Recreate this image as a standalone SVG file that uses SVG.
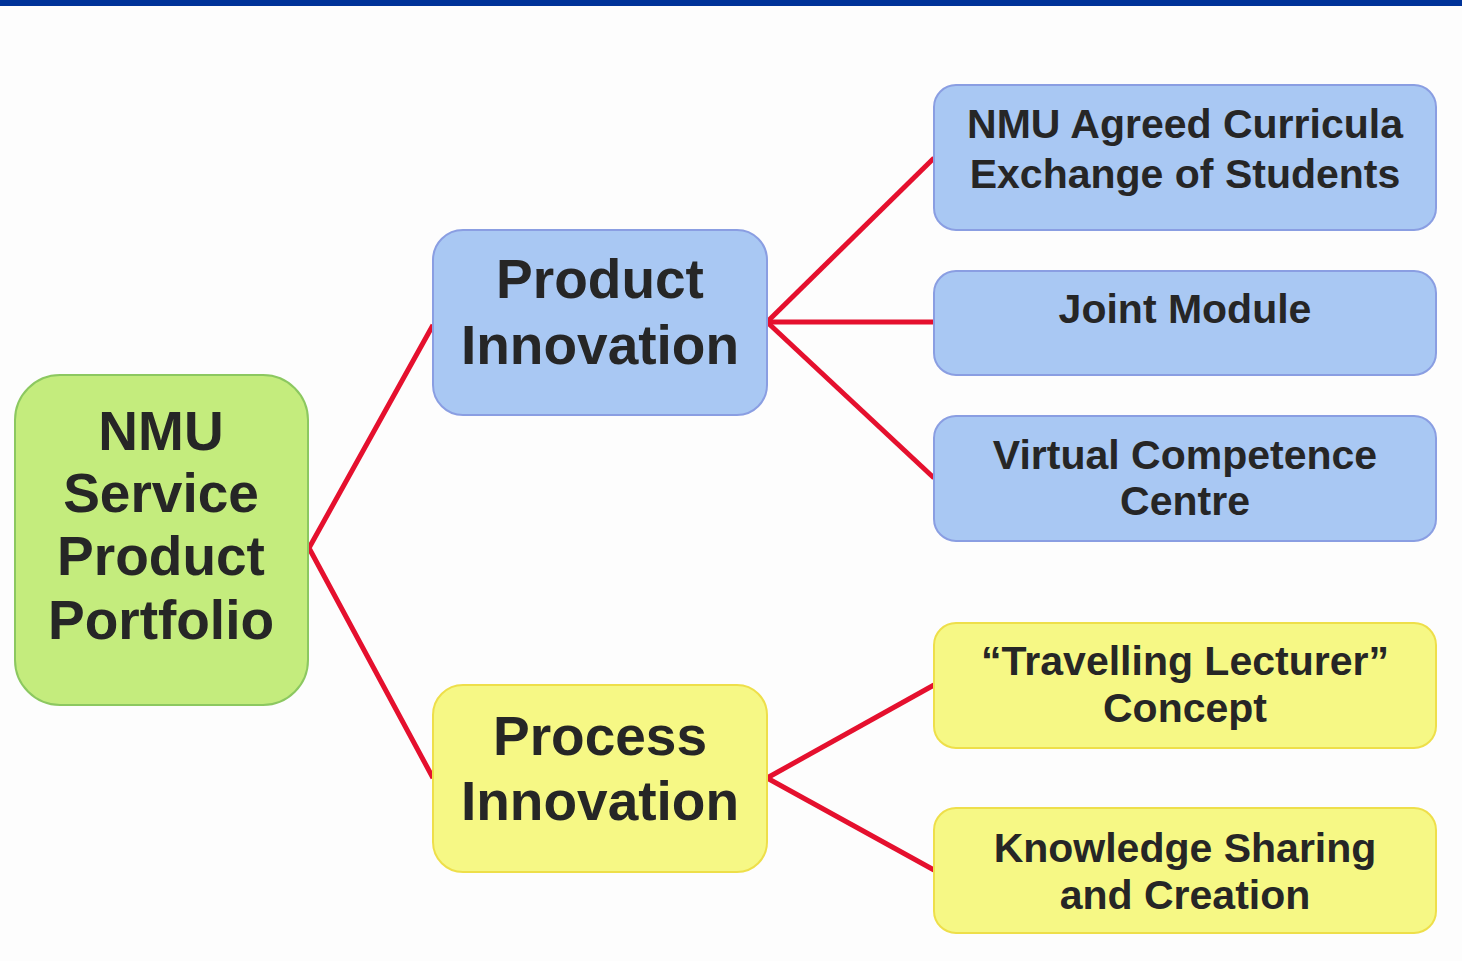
<svg xmlns="http://www.w3.org/2000/svg" width="1462" height="961" viewBox="0 0 1462 961">
<style>
text{font-family:"Liberation Sans",Arial,sans-serif;font-weight:bold;fill:#262626;text-anchor:middle}
.big{font-size:55px}
.sm{font-size:41px}
.green{fill:#c4ec7d;stroke:#8cc860;stroke-width:2}
.blue{fill:#a9c8f3;stroke:#8a9ee2;stroke-width:2}
.yellow{fill:#f6f885;stroke:#eedf4a;stroke-width:2}
.con{stroke:#e5102e;stroke-width:5;fill:none;stroke-linejoin:round}
</style>
<rect x="0" y="0" width="1462" height="961" fill="#fdfdfd"/>
<rect x="0" y="0" width="1462" height="6" fill="#003399"/>
<g id="connectors">
<polyline class="con" points="433,325 309,548 433,778"/>
<line class="con" x1="767" y1="322" x2="934" y2="158"/>
<line class="con" x1="767" y1="322" x2="934" y2="322"/>
<line class="con" x1="767" y1="322" x2="934" y2="478"/>
<line class="con" x1="767" y1="778" x2="934" y2="685"/>
<line class="con" x1="767" y1="778" x2="934" y2="870"/>
</g>
<g id="root">
<rect class="green" x="15" y="375" width="293" height="330" rx="45"/>
<text class="big" x="161" y="450">NMU</text>
<text class="big" x="161" y="512">Service</text>
<text class="big" x="161" y="575">Product</text>
<text class="big" x="161" y="639">Portfolio</text>
</g>
<g id="product">
<rect class="blue" x="433" y="230" width="334" height="185" rx="30"/>
<text class="big" x="600" y="298">Product</text>
<text class="big" x="600" y="364">Innovation</text>
</g>
<g id="process">
<rect class="yellow" x="433" y="685" width="334" height="187" rx="30"/>
<text class="big" x="600" y="755">Process</text>
<text class="big" x="600" y="820">Innovation</text>
</g>
<g id="curricula">
<rect class="blue" x="934" y="85" width="502" height="145" rx="22"/>
<text class="sm" x="1185" y="138">NMU Agreed Curricula</text>
<text class="sm" x="1185" y="188">Exchange of Students</text>
</g>
<g id="joint">
<rect class="blue" x="934" y="271" width="502" height="104" rx="22"/>
<text class="sm" x="1185" y="323">Joint Module</text>
</g>
<g id="virtual">
<rect class="blue" x="934" y="416" width="502" height="125" rx="22"/>
<text class="sm" x="1185" y="469">Virtual Competence</text>
<text class="sm" x="1185" y="515">Centre</text>
</g>
<g id="travelling">
<rect class="yellow" x="934" y="623" width="502" height="125" rx="22"/>
<text class="sm" x="1185" y="675">“Travelling Lecturer”</text>
<text class="sm" x="1185" y="722">Concept</text>
</g>
<g id="knowledge">
<rect class="yellow" x="934" y="808" width="502" height="125" rx="22"/>
<text class="sm" x="1185" y="862">Knowledge Sharing</text>
<text class="sm" x="1185" y="909">and Creation</text>
</g>
</svg>
